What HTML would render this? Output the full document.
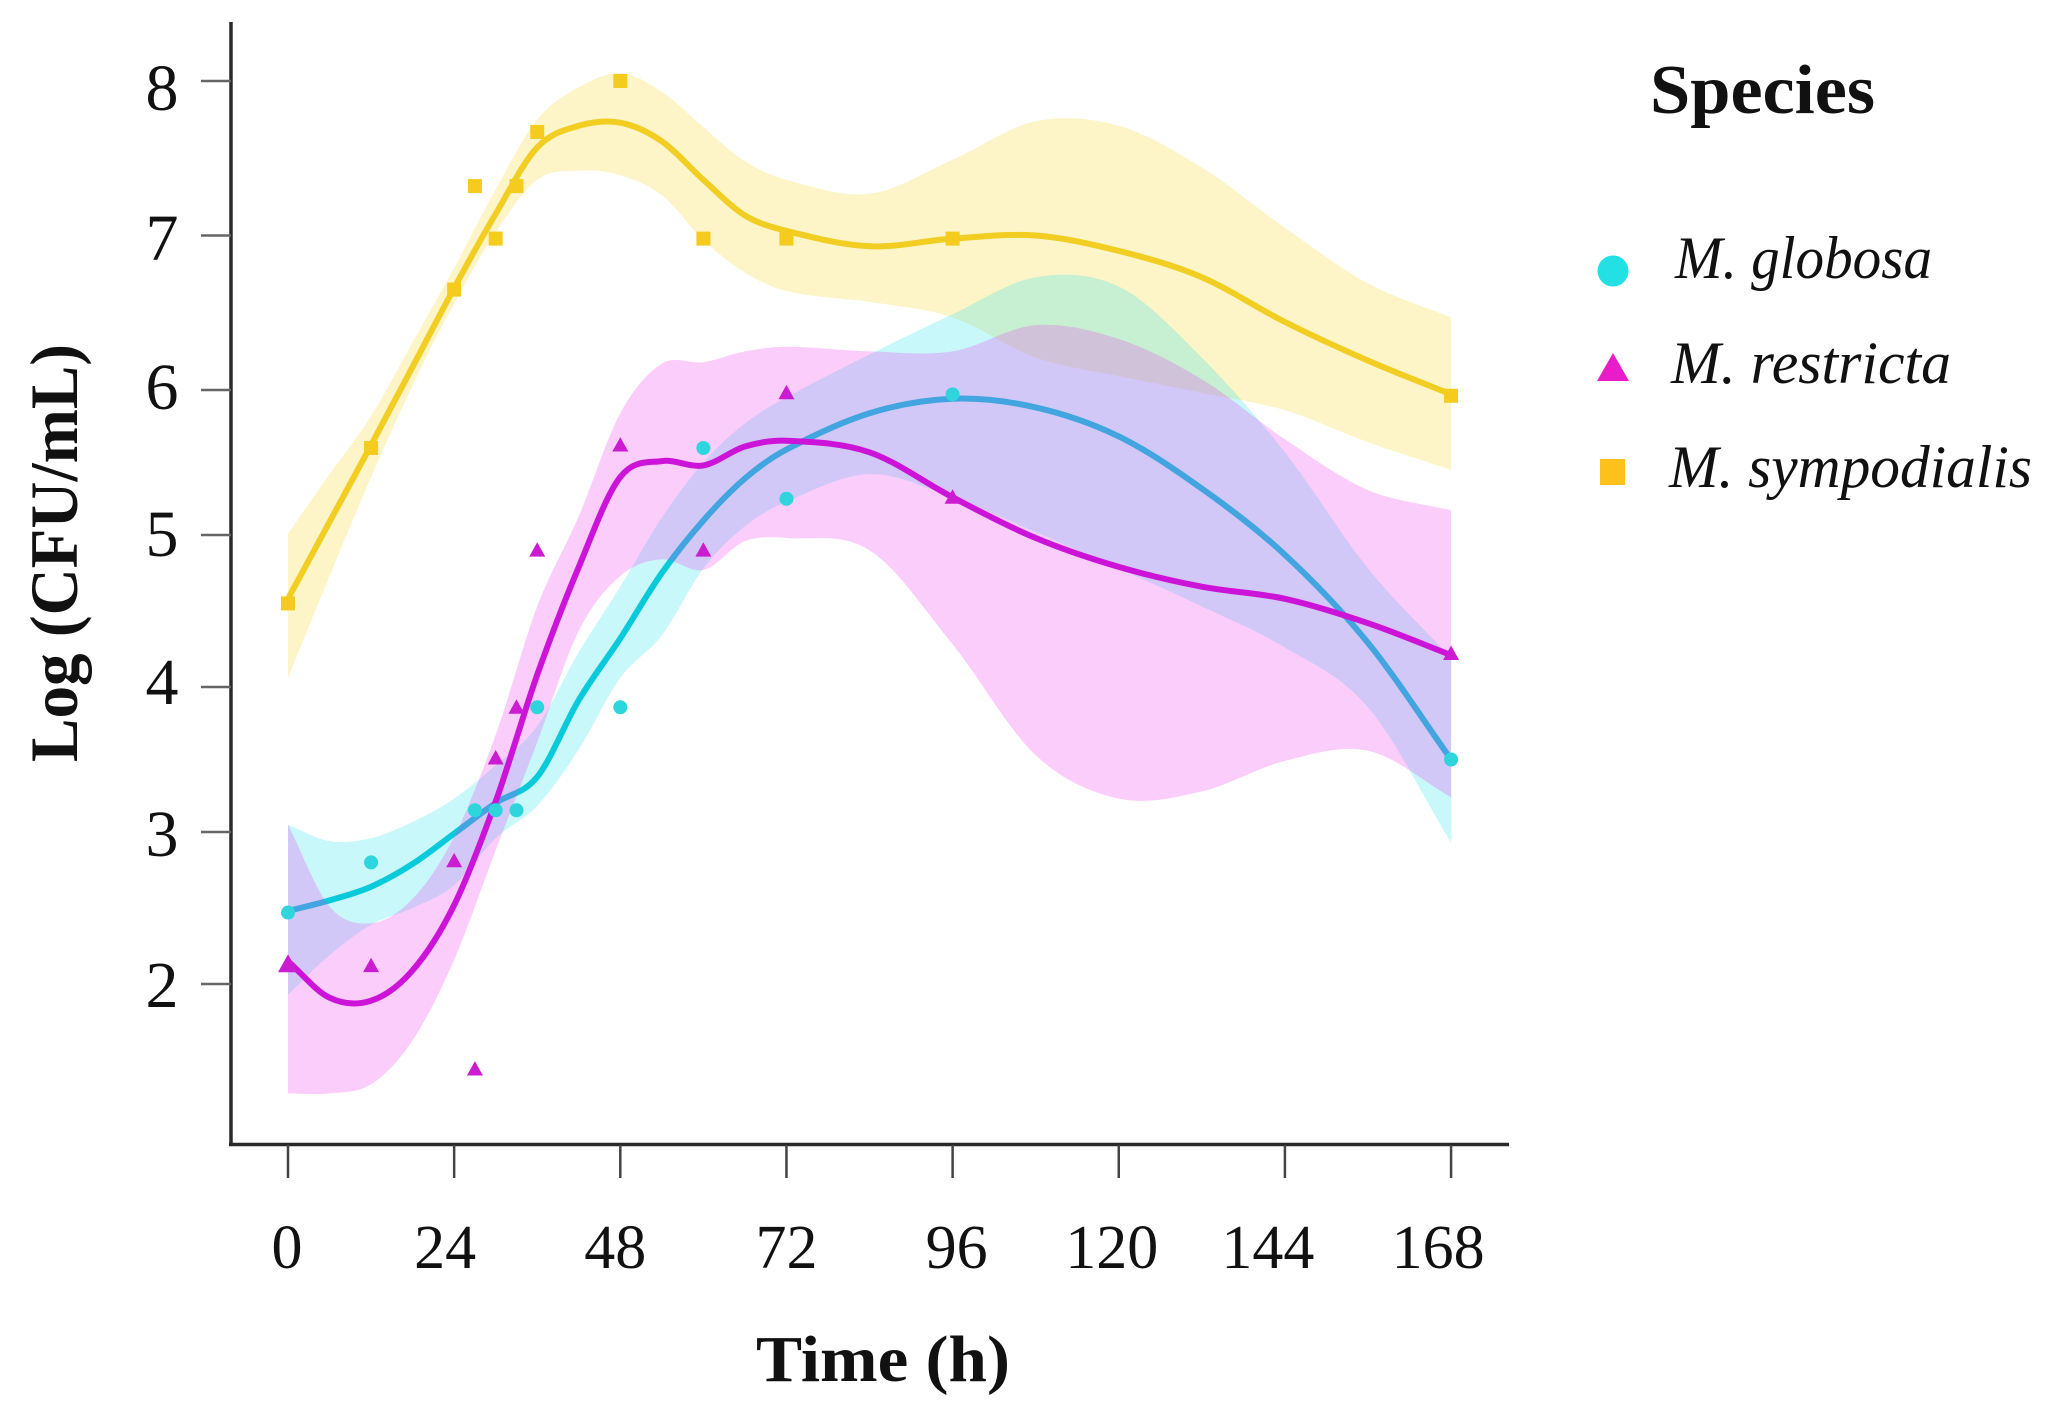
<!DOCTYPE html>
<html lang="en">
<head>
<meta charset="utf-8">
<title>Log CFU/mL over time by Malassezia species</title>
<style>
html,body{margin:0;padding:0;background:#fff;}
svg{display:block;}
text{font-family:"Liberation Serif",serif;fill:#111;}
</style>
</head>
<body>
<svg id="chart" xmlns="http://www.w3.org/2000/svg" width="2051" height="1405" viewBox="0 0 2051 1405">
  <rect width="2051" height="1405" fill="#ffffff"/>
  <g id="bands"></g>
  <g id="axes">
    <line x1="231" y1="22" x2="231" y2="1146" stroke="#2a2a2a" stroke-width="3.5"/>
    <line x1="229" y1="1144.5" x2="1509" y2="1144.5" stroke="#2a2a2a" stroke-width="3.5"/>
  </g>
  <text transform="translate(77,762) rotate(-90)" font-size="68" font-weight="700" textLength="418" lengthAdjust="spacingAndGlyphs">Log (CFU/mL)</text>
  <text x="756" y="1381" font-size="66" font-weight="700" textLength="254" lengthAdjust="spacingAndGlyphs">Time (h)</text>
  <g>
    <text x="1650" y="113" font-size="70" font-weight="700" textLength="225" lengthAdjust="spacingAndGlyphs">Species</text>
    <circle cx="1613" cy="271" r="15.5" fill="#22e0e4"/>
    <text x="1675" y="278" font-size="60" font-style="italic" textLength="257" lengthAdjust="spacingAndGlyphs">M. globosa</text>
    <polygon points="1613,353 1629,381 1597,381" fill="#e81cc8"/>
    <text x="1671" y="383" font-size="60" font-style="italic" textLength="280" lengthAdjust="spacingAndGlyphs">M. restricta</text>
    <rect x="1600" y="459" width="25" height="26" fill="#fdc11c"/>
    <text x="1669" y="487" font-size="60" font-style="italic" textLength="363" lengthAdjust="spacingAndGlyphs">M. sympodialis</text>
  </g>
</svg>
<script>
const xTickLabels = [0, 24, 48, 72, 96, 120, 144, 168];
const yTickLabels = [8, 7, 6, 5, 4, 3, 2];

const curveTimes = [0, 6, 12, 18, 24, 30, 36, 42, 48, 54, 60, 66, 72, 84, 96, 108, 120, 132, 144, 156, 168];
const sampleTimes = [0, 12, 24, 27, 30, 33, 36, 48, 60, 72, 96, 168];

const sympodialisPoints = [4.55, 5.6, 6.65, 7.32, 6.98, 7.32, 7.67, 8.0, 6.98, 6.98, 6.98, 5.96];
const globosaPoints = [2.47, 2.8, null, 3.15, 3.15, 3.15, 3.86, 3.86, 5.6, 5.25, 5.97, 3.5];
const restrictaPoints = [2.13, 2.12, 2.81, 1.44, 3.51, 3.86, 4.9, 5.62, 4.9, 5.98, 5.26, 4.22];

const sympodialisFit = [4.58, 5.09, 5.62, 6.15, 6.66, 7.14, 7.57, 7.71, 7.73, 7.61, 7.36, 7.13, 7.03, 6.93, 6.98, 7.0, 6.9, 6.73, 6.44, 6.19, 5.97];
const sympodialisUpper = [5.01, 5.42, 5.82, 6.31, 6.79, 7.30, 7.75, 7.96, 8.05, 7.93, 7.70, 7.48, 7.36, 7.27, 7.49, 7.74, 7.71, 7.44, 7.05, 6.69, 6.47];
const sympodialisLower = [4.06, 4.73, 5.40, 6.03, 6.56, 7.02, 7.36, 7.42, 7.39, 7.26, 6.97, 6.76, 6.64, 6.57, 6.47, 6.21, 6.09, 5.98, 5.86, 5.64, 5.45];

const globosaFit = [2.48, 2.55, 2.64, 2.79, 2.99, 3.20, 3.38, 3.91, 4.32, 4.75, 5.10, 5.39, 5.59, 5.84, 5.94, 5.88, 5.68, 5.32, 4.87, 4.29, 3.50];
const globosaUpper = [3.05, 2.94, 2.96, 3.07, 3.23, 3.46, 3.73, 4.23, 4.66, 5.12, 5.50, 5.77, 5.95, 6.23, 6.49, 6.73, 6.67, 6.21, 5.57, 4.78, 4.19];
const globosaLower = [1.93, 2.19, 2.39, 2.50, 2.65, 2.96, 3.18, 3.57, 4.06, 4.34, 4.78, 5.06, 5.23, 5.42, 5.26, 5.02, 4.78, 4.53, 4.26, 3.86, 2.93];

const restrictaFit = [2.15, 1.91, 1.89, 2.09, 2.52, 3.21, 4.08, 4.79, 5.40, 5.51, 5.48, 5.61, 5.65, 5.57, 5.26, 4.98, 4.79, 4.66, 4.58, 4.42, 4.21];
const restrictaUpper = [3.05, 2.51, 2.40, 2.56, 2.97, 3.67, 4.53, 5.13, 5.84, 6.17, 6.18, 6.25, 6.28, 6.25, 6.25, 6.42, 6.33, 6.07, 5.66, 5.31, 5.17];
const restrictaLower = [1.28, 1.28, 1.34, 1.63, 2.16, 2.88, 3.62, 4.37, 4.73, 4.84, 4.77, 4.96, 4.98, 4.90, 4.28, 3.53, 3.23, 3.28, 3.49, 3.56, 3.24];

const NS = 'http://www.w3.org/2000/svg';
const bandsLayer = document.getElementById('bands');
const axesLayer = document.getElementById('axes');

function xScale(t) {
  return 288 + t * 6.923;
}

function yScale(v) {
  const tickValue = [8, 7, 6, 5, 4, 3, 2];
  const tickPixel = [81, 235.5, 390, 535, 687, 832, 984];
  if (v >= 8) return 81 - (v - 8) * 154;
  if (v <= 2) return 984 + (2 - v) * 152;
  for (let i = 0; i < 6; i++) {
    if (v <= tickValue[i] && v >= tickValue[i + 1]) {
      return tickPixel[i] + (tickValue[i] - v) * (tickPixel[i + 1] - tickPixel[i]);
    }
  }
  return 0;
}

function slopeAt(pts, i) {
  const a = pts[Math.max(0, i - 1)];
  const b = pts[Math.min(pts.length - 1, i + 1)];
  return (b[1] - a[1]) / (b[0] - a[0]);
}

function smoothSegments(pts) {
  let d = '';
  for (let i = 0; i < pts.length - 1; i++) {
    const p1 = pts[i];
    const p2 = pts[i + 1];
    const step = (p2[0] - p1[0]) / 3;
    const c1x = p1[0] + step;
    const c1y = p1[1] + step * slopeAt(pts, i);
    const c2x = p2[0] - step;
    const c2y = p2[1] - step * slopeAt(pts, i + 1);
    d += ' C' + c1x.toFixed(1) + ' ' + c1y.toFixed(1) + ' ' + c2x.toFixed(1) + ' ' + c2y.toFixed(1) + ' ' + p2[0].toFixed(1) + ' ' + p2[1].toFixed(1);
  }
  return d;
}

function toPixels(values) {
  return values.map(function (v, i) { return [xScale(curveTimes[i]), yScale(v)]; });
}

function drawBand(upper, lower, color, name) {
  const up = toPixels(upper);
  const low = toPixels(lower).reverse();
  const path = document.createElementNS(NS, 'path');
  
  
  path.setAttribute('d', 'M' + up[0][0].toFixed(1) + ' ' + up[0][1].toFixed(1) + smoothSegments(up) + ' L' + low[0][0].toFixed(1) + ' ' + low[0][1].toFixed(1) + smoothSegments(low) + ' Z');
  path.setAttribute('fill', color);
  path.setAttribute('fill-opacity', '0.25');
  bandsLayer.appendChild(path);
}

function drawLine(fit, color, name) {
  const pts = toPixels(fit);
  const path = document.createElementNS(NS, 'path');
  
  
  path.setAttribute('d', 'M' + pts[0][0].toFixed(1) + ' ' + pts[0][1].toFixed(1) + smoothSegments(pts));
  path.setAttribute('fill', 'none');
  path.setAttribute('stroke', color);
  path.setAttribute('stroke-width', '6');
  bandsLayer.appendChild(path);
}

function drawCircles(values, color) {
  values.forEach(function (v, i) {
    if (v === null) return;
    const c = document.createElementNS(NS, 'circle');
    
    
    c.setAttribute('cx', xScale(sampleTimes[i]));
    c.setAttribute('cy', yScale(v));
    c.setAttribute('r', '7');
    c.setAttribute('fill', color);
    bandsLayer.appendChild(c);
  });
}

function drawTriangles(values, color) {
  values.forEach(function (v, i) {
    const px = xScale(sampleTimes[i]);
    const py = yScale(v);
    const s = i === 0 ? 10 : 8;
    const t = document.createElementNS(NS, 'polygon');
    
    
    t.setAttribute('points', px + ',' + (py - s) + ' ' + (px + s) + ',' + (py + s * 0.8) + ' ' + (px - s) + ',' + (py + s * 0.8));
    t.setAttribute('fill', color);
    bandsLayer.appendChild(t);
  });
}

function drawSquares(values, color) {
  values.forEach(function (v, i) {
    const r = document.createElementNS(NS, 'rect');
    
    
    r.setAttribute('x', xScale(sampleTimes[i]) - 7);
    r.setAttribute('y', yScale(v) - 7);
    r.setAttribute('width', '14');
    r.setAttribute('height', '14');
    r.setAttribute('fill', color);
    bandsLayer.appendChild(r);
  });
}

drawBand(sympodialisUpper, sympodialisLower, '#f7d723', 'ribbon-sympodialis');
drawLine(sympodialisFit, '#f2cd22', 'line-sympodialis');
drawSquares(sympodialisPoints, '#f5cb1e');
drawBand(globosaUpper, globosaLower, '#23e3eb', 'ribbon-globosa');
drawLine(globosaFit, '#08cadb', 'line-globosa');
drawBand(restrictaUpper, restrictaLower, '#ef37ef', 'ribbon-restricta');
drawLine(restrictaFit, '#cc14d8', 'line-restricta');
drawCircles(globosaPoints, '#2ed5dc');
drawTriangles(restrictaPoints, '#cb1cd2');

const yLabelShift = [29, 24, 19, 21, 17, 24, 23];
yTickLabels.forEach(function (v, i) {
  const py = yScale(v);
  const tick = document.createElementNS(NS, 'line');
  
  
  tick.setAttribute('x1', 201);
  tick.setAttribute('x2', 231);
  tick.setAttribute('y1', py);
  tick.setAttribute('y2', py);
  tick.setAttribute('stroke', '#666');
  tick.setAttribute('stroke-width', '2.5');
  axesLayer.appendChild(tick);
  const label = document.createElementNS(NS, 'text');
  
  
  label.setAttribute('x', 162);
  label.setAttribute('y', py + yLabelShift[i]);
  label.setAttribute('text-anchor', 'middle');
  label.setAttribute('font-size', '66');
  label.textContent = v;
  axesLayer.appendChild(label);
});

const xLabelShift = [-1, -9, -5, 0, 4, -7, -17, -13];
xTickLabels.forEach(function (t, i) {
  const px = xScale(t);
  const tick = document.createElementNS(NS, 'line');
  
  
  tick.setAttribute('x1', px);
  tick.setAttribute('x2', px);
  tick.setAttribute('y1', 1145);
  tick.setAttribute('y2', 1178);
  tick.setAttribute('stroke', '#444');
  tick.setAttribute('stroke-width', '2.5');
  axesLayer.appendChild(tick);
  const label = document.createElementNS(NS, 'text');
  
  
  label.setAttribute('x', px + xLabelShift[i]);
  label.setAttribute('y', 1268);
  label.setAttribute('text-anchor', 'middle');
  label.setAttribute('font-size', '62');
  label.textContent = t;
  axesLayer.appendChild(label);
});
</script>
</body>
</html>
